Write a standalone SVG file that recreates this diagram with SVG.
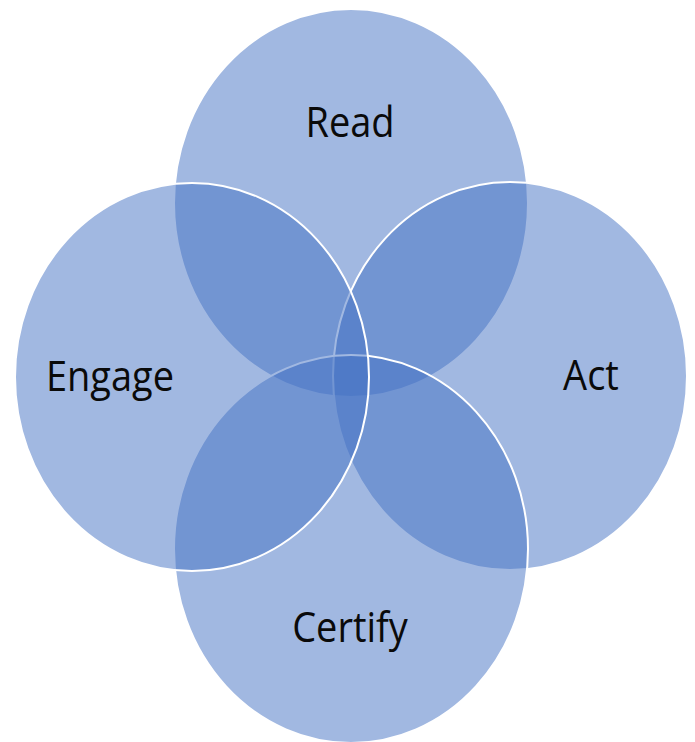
<svg xmlns="http://www.w3.org/2000/svg" width="695" height="742" viewBox="0 0 695 742">
  <style>
    .c { fill: #4472C4; fill-opacity: 0.5; stroke: #FFFFFF; stroke-width: 2; }
    .t { font-family: "Open Sans", "Liberation Sans", sans-serif; font-size: 38px; fill: #0A0A0A; text-anchor: middle; }
  </style>
  <rect x="0" y="0" width="695" height="742" fill="#FFFFFF"/>
  <g id="read">
    <ellipse class="c" cx="351" cy="203" rx="177" ry="194"/>
  </g>
  <g id="act">
    <ellipse class="c" cx="510" cy="376" rx="177" ry="194"/>
  </g>
  <g id="certify">
    <ellipse class="c" cx="351" cy="549" rx="177" ry="194"/>
  </g>
  <g id="engage">
    <ellipse class="c" cx="192" cy="377" rx="177" ry="194"/>
  </g>
  <g id="labels">
    <text class="t" transform="translate(350 137) scale(1 1.1)" x="0" y="0">Read</text>
    <text class="t" transform="translate(110 391) scale(1 1.1)" x="0" y="0">Engage</text>
    <text class="t" transform="translate(591 390) scale(1 1.1)" x="0" y="0">Act</text>
    <text class="t" transform="translate(350 642) scale(1 1.1)" x="0" y="0">Certify</text>
  </g>
</svg>
